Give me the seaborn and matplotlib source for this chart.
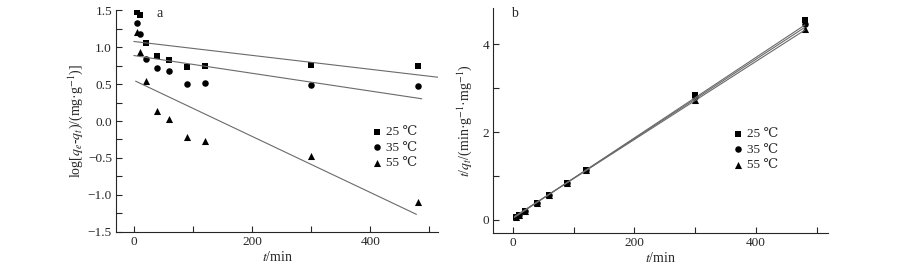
import numpy as np
import pandas as pd
import seaborn as sns
import matplotlib.pyplot as plt
from matplotlib.ticker import MultipleLocator

# contact time (min)
t = [5, 10, 20, 40, 60, 90, 120, 300, 480]
temps = ["25 ℃", "35 ℃", "55 ℃"]

# pseudo-first-order: log(qe - qt)
log_25 = [1.48, 1.43, 1.05, 0.88, 0.82, 0.73, 0.74, 0.76, 0.75]
log_35 = [1.32, 1.18, 0.84, 0.71, 0.68, 0.50, 0.51, 0.48, 0.47]
log_55 = [1.20, 0.93, 0.54, 0.14, 0.03, -0.21, -0.27, -0.47, -1.09]
# fitted lines (intercept, slope, x-range)
fit1_icpt = [1.075, 0.885, 0.55]
fit1_slope = [-0.00094, -0.00120, -0.00379]
fit1_range = [(0, 515), (0, 487), (3, 478)]

# pseudo-second-order: t/qt
tq_25 = [0.06, 0.11, 0.20, 0.39, 0.57, 0.84, 1.13, 2.84, 4.55]
tq_35 = [0.06, 0.11, 0.20, 0.39, 0.57, 0.84, 1.13, 2.79, 4.45]
tq_55 = [0.06, 0.11, 0.20, 0.39, 0.57, 0.84, 1.13, 2.73, 4.34]
fit2_icpt = [0.03, 0.04, 0.05]
fit2_slope = [0.00918, 0.00905, 0.00890]
fit2_range = [(3, 480), (3, 480), (3, 480)]

sns.set_theme(style="ticks")
plt.rcParams["font.family"] = ["Liberation Serif", "DejaVu Serif"]
plt.rcParams["mathtext.fontset"] = "stix"

fig = plt.figure(figsize=(9, 2.71), dpi=100)
ax1 = fig.add_axes([0.129, 0.144, 0.358, 0.819])
ax2 = fig.add_axes([0.548, 0.140, 0.372, 0.830])

markers = ["s", "o", "^"]
sizes = [18, 22, 26]


def panel(ax, ys, icpts, slopes, ranges, leg_pos):
    for i, name in enumerate(temps):
        x0, x1 = ranges[i]
        xx = np.array([x0, x1])
        sns.lineplot(x=xx, y=icpts[i] + slopes[i] * xx, ax=ax, color="#6a6a6a",
                     lw=0.8, legend=False)
    for i, name in enumerate(temps):
        sns.scatterplot(x=t, y=ys[i], ax=ax, marker=markers[i], s=sizes[i],
                        color="black", edgecolor="black", linewidth=0, label=name)
    for s in ["top", "right"]:
        ax.spines[s].set_visible(False)
    for s in ["left", "bottom"]:
        ax.spines[s].set_linewidth(0.8)
    ax.tick_params(which="both", direction="in", labelsize=9.5, width=0.8)
    ax.tick_params(which="major", length=4, pad=3)
    ax.tick_params(which="minor", length=4)
    ax.xaxis.set_major_locator(MultipleLocator(200))
    ax.xaxis.set_minor_locator(MultipleLocator(100))
    ax.set_xlabel(r"$t$/min", fontsize=10, labelpad=1)
    ax.legend(frameon=False, loc="center left", fontsize=9.5, handletextpad=0.2,
              handlelength=1.0, borderpad=0, borderaxespad=0, labelspacing=0.25,
              bbox_to_anchor=leg_pos)


panel(ax1, [log_25, log_35, log_55], fit1_icpt, fit1_slope, fit1_range, (0.79, 0.38))
ax1.set_xlim(-30, 515)
ax1.set_ylim(-1.5, 1.5)
ax1.yaxis.set_major_locator(MultipleLocator(0.5))
ax1.yaxis.set_minor_locator(MultipleLocator(0.25))
ax1.set_ylabel(r"log[$q_e$-$q_t$)/(mg·g$^{-1}$)]", fontsize=10, labelpad=2)
ax1.text(38, 1.45, "a", fontsize=10, va="center")

panel(ax2, [tq_25, tq_35, tq_55], fit2_icpt, fit2_slope, fit2_range, (0.71, 0.37))
ax2.set_xlim(-32, 518)
ax2.set_ylim(-0.3, 4.82)
ax2.yaxis.set_major_locator(MultipleLocator(2))
ax2.yaxis.set_minor_locator(MultipleLocator(1))
ax2.set_ylabel(r"$t$/$q_t$/(min·g$^{-1}$·mg$^{-1}$)", fontsize=10, labelpad=6)
ax2.text(-2, 4.7, "b", fontsize=10, va="center")

fig.savefig("out.png", dpi=100)
